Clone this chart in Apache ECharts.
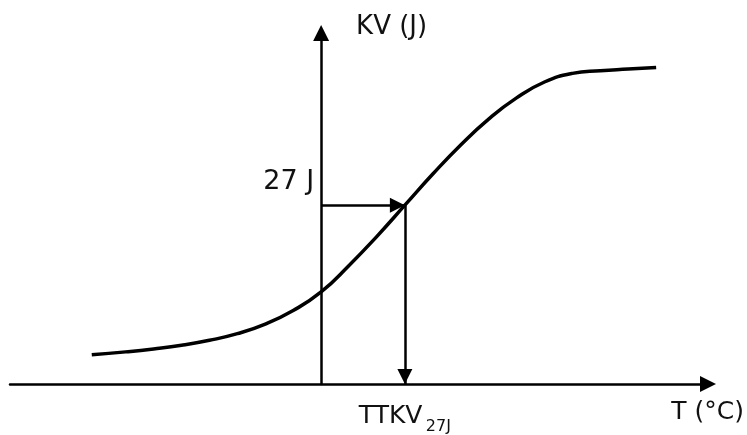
<!DOCTYPE html>
<html>
<head>
<meta charset="utf-8">
<script src="https://cdn.jsdelivr.net/npm/echarts@6/dist/echarts.min.js"></script>
<style>
    html, body { margin: 0; padding: 0; background: #fff; }
    #chart { width: 747px; height: 435px; }
</style>
</head>
<body>
<div id="chart"></div>
<script>
// transition curve (T in arbitrary °C units, KV in J)
const temps = [-57.5, -49, -42, -35, -28, -21, -14, -7, 0, 7, 14, 21, 28, 35, 42, 49, 56, 63, 70, 77, 84];
const energy = [4.4, 4.85, 5.3, 5.85, 6.6, 7.6, 9.05, 11.1, 13.9, 17.9, 22.3, 27, 31.7, 36.1, 40.0, 43.2, 45.6, 46.9, 47.3, 47.55, 47.8];
const refEnergy = 27;   // 27 J level
const ttkv = 21;        // temperature where curve crosses 27 J
const tRange = [-78, 97];
const kvRange = [0, 53];
const labels = { y: 'KV (J)', x: 'T (°C)', level: '27 J', temp: 'TTKV', sub: '27J' };

const font = 'DejaVu Sans';
const ink = '#111';

const myChart = echarts.init(document.getElementById('chart'));

const options = {
    animation: false,
    backgroundColor: '#fff',
    grid: { left: 10, right: 37, top: 33, bottom: 51 },
    xAxis: {
        type: 'value',
        min: tRange[0],
        max: tRange[1],
        axisLine: {
            onZero: true,
            symbol: ['none', 'triangle'],
            symbolSize: [16, 16],
            lineStyle: { color: '#000', width: 2.5 }
        },
        axisTick: { show: false },
        axisLabel: { show: false },
        splitLine: { show: false },
        name: labels.x,
        nameLocation: 'end',
        nameGap: 36,
        nameTextStyle: {
            fontFamily: font, fontSize: 25, color: ink,
            align: 'right', verticalAlign: 'top', padding: [16, 0, 0, 0]
        }
    },
    yAxis: {
        type: 'value',
        min: kvRange[0],
        max: kvRange[1],
        axisLine: {
            onZero: true,
            symbol: ['none', 'triangle'],
            symbolSize: [16, 16],
            lineStyle: { color: '#000', width: 2.5 }
        },
        axisTick: { show: false },
        axisLabel: { show: false },
        splitLine: { show: false },
        name: labels.y,
        nameLocation: 'end',
        nameGap: 6,
        nameTextStyle: {
            fontFamily: font, fontSize: 26, color: ink,
            align: 'left', verticalAlign: 'middle', padding: [0, 0, 0, 35]
        }
    },
    series: [
        {
            type: 'line',
            data: temps.map((t, i) => [t, energy[i]]),
            smooth: 0.5,
            showSymbol: false,
            silent: true,
            lineStyle: { color: '#000', width: 3.5 },
            markLine: {
                silent: true,
                symbol: ['none', 'triangle'],
                symbolSize: 15,
                symbolOffset: [0, [0, 7.5]],
                label: { show: false },
                lineStyle: { color: '#000', width: 2.5, type: 'solid' },
                data: [
                    [{ coord: [0, refEnergy] }, { coord: [ttkv, refEnergy] }],
                    [{ coord: [ttkv, refEnergy] }, { coord: [ttkv, 0] }]
                ]
            }
        },
        {
            type: 'scatter',
            symbolSize: 0,
            silent: true,
            itemStyle: { opacity: 1 },
            data: [
                {
                    value: [0, refEnergy],
                    label: {
                        show: true, position: 'left', distance: 7, offset: [0, -23],
                        formatter: labels.level,
                        fontFamily: font, fontSize: 27, color: ink
                    }
                },
                {
                    value: [ttkv, 0],
                    label: {
                        show: true, position: 'bottom', distance: 19,
                        formatter: '{a|' + labels.temp + '} {b|' + labels.sub + '}',
                        rich: {
                            a: { fontFamily: font, fontSize: 25, color: ink, lineHeight: 27 },
                            b: { fontFamily: font, fontSize: 16, color: ink, lineHeight: 20, padding: [21, 0, 0, 0] }
                        }
                    }
                }
            ]
        }
    ]
};

myChart.setOption(options);
</script>
</body>
</html>
